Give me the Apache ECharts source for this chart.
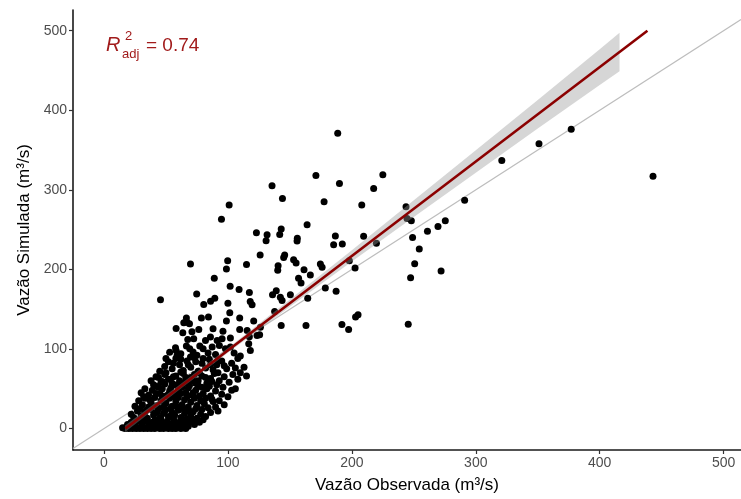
<!DOCTYPE html>
<html>
<head>
<meta charset="utf-8">
<script src="https://cdn.jsdelivr.net/npm/echarts@6/dist/echarts.min.js"></script>
<style>
  html, body { margin: 0; padding: 0; background: #fff; }
  #chart { width: 741px; height: 499px; }
</style>
</head>
<body>
<div id="chart"></div>
<script>
// pontos [vazao observada, vazao simulada]
var pontosDenso = [
  [15,1],[17,0],[18,2],[20,0],[21,1],[23,0],[24,2],[26,0],[27,1],[29,0],[30,2],[32,0],[33,1],[35,0],[36,2],[38,0],
  [40,1],[41,0],[43,2],[45,0],[46,1],[48,0],[50,1],[52,0],[53,2],[55,0],[57,1],[58,0],[60,2],[62,0],[64,1],[66,0],
  [19,5],[22,8],[25,4],[28,9],[31,6],[34,10],[37,4],[39,8],[42,5],[44,11],[47,7],[49,3],[51,9],[54,5],[56,12],
  [59,7],[61,4],[63,10],[66,6],[68,3],[70,9],[73,5],
  [22,18],[24,14],[27,22],[30,16],[33,20],[35,13],[38,24],[40,17],[43,21],[45,14],[48,19],[50,24],[52,15],
  [55,20],[57,17],[60,23],[62,14],[65,19],[67,24],[70,16],[72,21],[75,13],[78,18],[82,15],
  [25,28],[28,35],[31,30],[33,38],[36,27],[38,33],[41,39],[43,29],[46,35],[48,27],[50,32],[53,38],[55,28],
  [58,34],[60,39],[63,30],[65,36],[68,27],[70,33],[73,38],[75,29],[78,35],[81,31],[84,26],[88,34],[90,27],
  [30,45],[33,50],[36,42],[39,48],[42,53],[45,44],[47,50],[50,41],[53,47],[55,54],[58,43],[60,49],[63,52],
  [66,45],[68,51],[71,42],[74,48],[76,54],[80,44],[83,50],[86,41],[90,47],[95,43],[100,40],[106,50],
  [38,60],[42,65],[46,58],[49,68],[52,62],[55,57],[58,66],[61,60],[64,69],[67,58],[70,64],[73,68],[76,60],
  [79,66],[83,57],[86,63],[89,69],[93,60],[97,65],[101,58],[108,62],
  [45,72],[49,78],[47,59],[52,84],[55,75],[58,88],[61,80],[64,73],[67,85],[70,77],[73,89],[76,72],[79,82],
  [82,76],[85,87],[88,74],[91,80],[95,85],[99,75],[103,82],[108,88],[113,77]
];
var pontosExtra = [
  [26,11],[32,13],[36,7],[41,10],[46,12],[52,6],[57,9],[62,7],[67,12],[72,10],[77,8],[80,11],
  [29,25],[34,23],[39,28],[44,25],[49,22],[54,26],[59,27],[64,25],[69,22],[74,25],[79,24],[86,20],[92,22],
  [32,40],[37,36],[42,44],[47,41],[52,43],[57,40],[62,44],[67,40],[72,45],[77,41],[82,38],[87,37],[93,35],[97,30],
  [40,55],[44,52],[49,56],[54,51],[59,55],[64,57],[69,54],[74,57],[79,52],[85,53],[91,55],[96,52],[103,48],
  [44,64],[50,70],[56,65],[62,71],[66,64],[72,60],[77,70],[82,64],[87,59],[92,70],[104,68],[110,70],
  [50,88],[56,82],[62,87],[68,80],[74,84],[80,88],[86,80],[92,86],[97,79],[106,76],[115,66]
];
var pontosMedio = [
  [57.7,101.5],[58.2,98],[59,91.9],[66.5,103.6],[69.2,100.3],[69.8,89.8],[71.9,96.1],[77.3,103.6],[80,100.3],
  [87.3,102.4],[93.1,104.4],[98,100.3],[102,102.4],[116.8,106.5],[118.1,98],[62,94],[75,92],[84,95],[90,93],
  [105,95],[110,91],[53,96],
  [67.6,112],[72.4,112.8],[81.9,110.7],[85.9,114.9],[91.3,110.7],[95.3,112.8],[102,113.7],[115.5,123.2],
  [117.3,115.3],[123.5,117],[58.2,125.7],[63.6,120.3],[71,121.5],[76.5,124.4],[88,125.3],[96,122.4],
  [109.5,124.4],[120.8,135],[66.5,139],[67,133.7],[69,131.6],[64.4,132.8],[78.6,139],[84.3,140],[98.8,135],
  [109.5,139],[126.2,127.4],[125.6,117.8],[143,129.5],[163,129.5],[192,130.7],[197.4,124.4],[203,140],
  [245.5,131],
  [101.5,145.4],[137.7,147],[205,143],[80.5,156],[86,160],[89.4,163.8],[100,157.5],[118,159.5],[119.5,155.6],
  [45.6,161.7],[74.8,169],[101.8,178.8],[109,174.6],[117.3,170.8],[150.4,168],[164.4,163.8],[139,173],
  [136,168],[142.3,165],[143.7,160.8],[178.6,176.7],[187.3,172.5]
];
var pontosAltos = [
  [89,189],[157,188.8],[159,183],[166.5,193],[161.4,199.6],[140.5,204.7],[140.2,199],[202.6,201.8],[198,211],
  [174.6,206.8],[176,202.6],[153,212],[155,208],[145.8,218],[145,215],[126,218],[115,206],[69.8,206.8],
  [99.8,211],[98.8,200.5],[247.4,189.6],[272,198],[250.7,207],[254.4,225.6],[249,240],[261,248],[269.5,254],
  [275.4,261],[248,261],[244.5,264],[243.7,278.6],[185.3,231],[192.3,232],[219.8,233],[155.8,235.6],
  [130.8,236],[131.6,243.5],[123,246],[143,250.6],[141.8,244],[163.9,256],[156,239],[186.7,242],[209.5,241.5],
  [101,281],[94.8,263],[135.6,305],[144,289],[177.6,285],[208,281],[171,318],[190,308],[225,319],
  [217.6,301.6],[188.6,371],[291,287],[321,337],[351,358],[377,376],[443,317]
];

// reta ajustada e faixa de confianca
var ajusteX = [17.3, 438.5];
var ajusteY = [0, 500];
var faixaX  = [17, 60, 100, 150, 200, 250, 300, 350, 400, 416];
var faixaLo = [-4.3, 47.7, 95.2, 153.1, 209.9, 265.8, 321.6, 377, 431.8, 449];
var faixaHi = [3.7, 53.7, 101.2, 162.1, 223.9, 286.8, 349.6, 413, 476.8, 497.5];

var linha11 = [-25, 514];
var ticks = [0, 100, 200, 300, 400, 500];

var myChart = echarts.init(document.getElementById('chart'));

var fonte = '"Liberation Sans", Arial, sans-serif';
var eixo = function (nome, min, max, gap) {
    return {
        type: 'value',
        min: min,
        max: max,
        name: nome,
        nameLocation: 'middle',
        nameGap: gap,
        nameTextStyle: { color: '#000', fontSize: 17, fontFamily: fonte },
        axisLine: { show: true, onZero: false, lineStyle: { color: '#1a1a1a', width: 1.6 } },
        axisTick: { show: true, length: 4, customValues: ticks, lineStyle: { color: '#333', width: 1.2 } },
        axisLabel: { customValues: ticks, color: '#4d4d4d', fontSize: 14, fontFamily: fonte, margin: 6 },
        splitLine: { show: false }
    };
};

var option = {
    animation: false,
    backgroundColor: '#fff',
    grid: { left: 73, right: 0, top: 10, bottom: 47 },
    xAxis: eixo('Vazão Observada (m³/s)', -25, 514, 27),
    yAxis: eixo('Vazão Simulada (m³/s)', -27, 526, 40),
    graphic: [
        { type: 'text', left: 106, top: 35, z: 10,
          style: { text: 'R', fill: '#a11b1b', font: 'italic 20px ' + fonte } },
        { type: 'text', left: 125, top: 30, z: 10,
          style: { text: '2', fill: '#a11b1b', font: '13px ' + fonte } },
        { type: 'text', left: 122, top: 48, z: 10,
          style: { text: 'adj', fill: '#a11b1b', font: '13px ' + fonte } },
        { type: 'text', left: 146, top: 36, z: 10,
          style: { text: '= 0.74', fill: '#a11b1b', font: '19px ' + fonte } }
    ],
    series: [
        {
            type: 'line',
            data: [[linha11[0], linha11[0]], [linha11[1], linha11[1]]],
            symbol: 'none',
            lineStyle: { color: '#bdbdbd', width: 1.2 },
            z: 1
        },
        {
            type: 'scatter',
            data: pontosDenso.concat(pontosExtra, pontosMedio, pontosAltos),
            symbolSize: 7,
            itemStyle: { color: '#000', opacity: 1 },
            z: 2
        },
        {
            type: 'custom',
            clip: true,
            data: faixaX.map(function (x, i) { return [x, faixaLo[i], faixaHi[i]]; }),
            encode: { x: 0, y: [1, 2] },
            renderItem: function (params, api) {
                if (params.dataIndex !== 0) return;
                var pts = [];
                for (var i = 0; i < faixaX.length; i++) pts.push(api.coord([faixaX[i], faixaHi[i]]));
                for (var j = faixaX.length - 1; j >= 0; j--) pts.push(api.coord([faixaX[j], faixaLo[j]]));
                return { type: 'polygon', shape: { points: pts }, style: { fill: 'rgba(153,153,153,0.4)' } };
            },
            z: 4
        },
        {
            type: 'line',
            data: ajusteX.map(function (x, i) { return [x, ajusteY[i]]; }),
            symbol: 'none',
            lineStyle: { color: '#8b0000', width: 2.6 },
            z: 5
        }
    ]
};

myChart.setOption(option);
</script>
</body>
</html>
